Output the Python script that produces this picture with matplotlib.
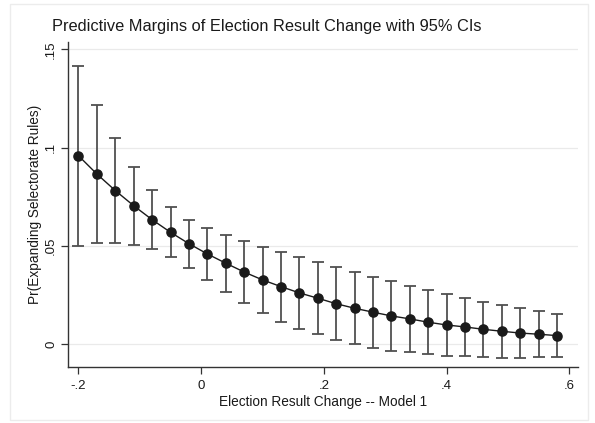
import matplotlib
matplotlib.use("Agg")
import matplotlib.pyplot as plt
from matplotlib.patches import Rectangle

# Predictive margins
change = [-0.20, -0.17, -0.14, -0.11, -0.08, -0.05, -0.02, 0.01, 0.04, 0.07,
          0.10, 0.13, 0.16, 0.19, 0.22, 0.25, 0.28, 0.31, 0.34, 0.37,
          0.40, 0.43, 0.46, 0.49, 0.52, 0.55, 0.58]
margin = [0.0959, 0.0866, 0.0782, 0.0705, 0.0634, 0.0570, 0.0512, 0.0460, 0.0413, 0.0368,
          0.0328, 0.0294, 0.0262, 0.0235, 0.0207, 0.0184, 0.0164, 0.0145, 0.0130, 0.0113,
          0.0099, 0.0089, 0.0077, 0.0067, 0.0058, 0.0052, 0.0045]
upper = [0.1417, 0.1217, 0.1048, 0.0904, 0.0785, 0.0697, 0.0634, 0.0590, 0.0558, 0.0524,
         0.0497, 0.0472, 0.0443, 0.0419, 0.0392, 0.0368, 0.0345, 0.0321, 0.0297, 0.0277,
         0.0257, 0.0238, 0.0217, 0.0202, 0.0187, 0.0169, 0.0155]
lower = [0.0501, 0.0515, 0.0516, 0.0506, 0.0483, 0.0443, 0.0390, 0.0330, 0.0268, 0.0212,
         0.0159, 0.0116, 0.0081, 0.0051, 0.0022, 0.0000, -0.0017, -0.0031, -0.0037, -0.0051,
         -0.0059, -0.0060, -0.0063, -0.0068, -0.0071, -0.0065, -0.0065]

xticks = [-0.2, 0, 0.2, 0.4, 0.6]
xticklabels = ["-.2", "0", ".2", ".4", ".6"]
yticks = [0, 0.05, 0.1, 0.15]
yticklabels = ["0", ".05", ".1", ".15"]

plt.rcParams['font.family'] = ['Liberation Sans', 'DejaVu Sans']

fig = plt.figure(figsize=(5.95, 4.23), dpi=100)
fig.patch.set_facecolor("white")
# light outer frame of the graph region
fig.patches.append(Rectangle((10 / 595, 3 / 423), 578 / 595, 416 / 423,
                             transform=fig.transFigure, fill=False,
                             edgecolor="#ececec", linewidth=1))

ax = fig.add_axes([0.1148, 0.1317, 0.8566, 0.769])

for y in yticks:
    ax.axhline(y, color="#eaeaea", linewidth=0.9, zorder=0)

err_lo = [m - l for m, l in zip(margin, lower)]
err_hi = [u - m for m, u in zip(margin, upper)]
ax.errorbar(change, margin, yerr=[err_lo, err_hi], fmt="none",
            ecolor="#505050", elinewidth=1.3, capsize=4, capthick=1.3, zorder=2)
ax.plot(change, margin, color="#1a1a1a", linewidth=1.0, marker="o",
        markersize=6.6, markerfacecolor="#1a1a1a", markeredgecolor="#1a1a1a", zorder=3)

ax.set_xlim(-0.2166, 0.614)
ax.set_ylim(-0.0116, 0.1537)
ax.set_xticks(xticks)
ax.set_xticklabels(xticklabels)
ax.set_yticks(yticks)
ax.set_yticklabels(yticklabels, rotation=90, va="center")

for s in ["top", "right"]:
    ax.spines[s].set_visible(False)
for s in ["left", "bottom"]:
    ax.spines[s].set_color("#333333")
    ax.spines[s].set_linewidth(1.0)
ax.tick_params(axis="both", direction="out", length=5, width=0.9, color="#333333",
               labelsize=9.5, labelcolor="#1a1a1a", pad=3)
ax.tick_params(axis="x", pad=4)

ax.set_xlabel("Election Result Change -- Model 1", fontsize=9.8, color="#1a1a1a", labelpad=2)
ax.set_ylabel("Pr(Expanding Selectorate Rules)", fontsize=9.8, color="#1a1a1a", labelpad=2)

fig.text(52 / 595, 1 - 27 / 423, "Predictive Margins of Election Result Change with 95% CIs",
         fontsize=11.8, color="#1a1a1a", ha="left", va="center")

fig.savefig("out.png", dpi=100, facecolor="white")
